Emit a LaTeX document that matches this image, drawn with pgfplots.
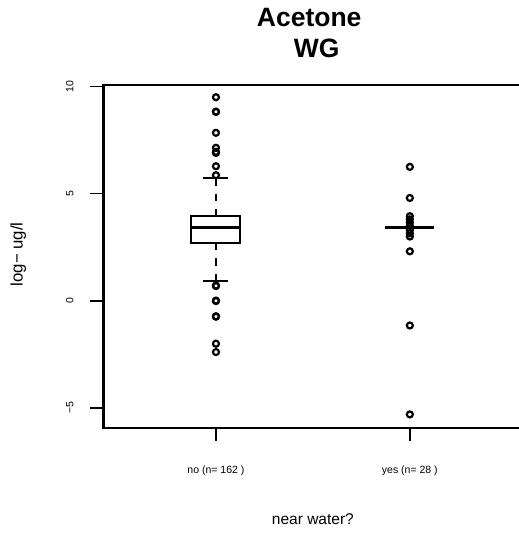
\documentclass[border=0pt]{standalone}
\usepackage{fontspec}
\setmainfont{Liberation Sans}
\usepackage{pgfplots}
\pgfplotsset{compat=1.18}
\begin{document}
\begin{tikzpicture}
\begin{axis}[
  name=ax,
  scale only axis, width=418.8bp, height=342.7bp,
  xmin=0.42, xmax=2.58, ymin=-5.92, ymax=10.07,
  axis line style={line width=2.2bp},
  tick align=outside, major tick length=13bp,
  tick style={line width=1.6bp, black},
  xtick pos=bottom, ytick pos=left,
  xtick={1,2}, xticklabels={no (n= 162 ), yes (n= 28 )},
  ytick={-5,0,5,10}, yticklabels={−5,0,5,10},
  /pgf/number format/assume math mode=true,
  ticklabel style={font=\fontsize{10.5bp}{12bp}\selectfont, inner sep=0pt},
  yticklabel style={rotate=90, anchor=south},
  yticklabel shift=16.7bp,
  xticklabel style={anchor=north},
  xticklabel shift=25bp,
  xlabel={near water?},
  xlabel style={at={(axis description cs:0.5,-0.2839)}, anchor=base, inner sep=0pt, font=\fontsize{15.5bp}{18bp}\selectfont},
  ylabel={log− ug/l},
  ylabel style={at={(axis description cs:-0.2034,0.506)}, anchor=center, inner sep=0pt, font=\fontsize{16.8bp}{19bp}\selectfont},
  title={Acetone\hspace*{0.28em}\\\hspace*{0.28em}WG},
  title style={at={(axis description cs:0.5,1)}, anchor=south, align=center, inner sep=0pt, yshift=21.5bp, font=\fontsize{26.5bp}{30.6bp}\selectfont\bfseries},
]
% group 1 box
\addplot[black, line width=2bp, line join=miter] coordinates {(0.8735,2.71) (1.1265,2.71) (1.1265,3.95) (0.8735,3.95)} --cycle;
\addplot[black, line width=2.4bp] coordinates {(0.8735,3.43) (1.1265,3.43)};
\addplot[black, line width=2bp, dash pattern=on 7.5bp off 8bp] coordinates {(1,5.73) (1,3.95)};
\addplot[black, line width=2bp, dash pattern=on 7.5bp off 8bp] coordinates {(1,0.92) (1,2.71)};
\addplot[black, line width=2bp] coordinates {(0.9355,5.73) (1.0645,5.73)};
\addplot[black, line width=2bp] coordinates {(0.9355,0.92) (1.0645,0.92)};
% group 2 collapsed box
\addplot[black, line width=2.4bp] coordinates {(1.8735,3.43) (2.1265,3.43)};
% outliers
\addplot[only marks, mark=o, mark size=3bp, mark options={line width=2.2bp, black}] coordinates {
(1,9.50) (1,8.82) (1,8.82) (1,7.84) (1,7.14) (1,6.95) (1,6.90) (1,6.28) (1,5.86)
(1,0.71) (1,0.69) (1,-0.01) (1,0.01) (1,-0.72) (1,-0.74) (1,-2.00) (1,-2.39)
};
\addplot[only marks, mark=o, mark size=3bp, mark options={line width=2.2bp, black}] coordinates {
(2,6.25) (2,4.80) (2,3.95) (2,3.80) (2,3.65) (2,3.50) (2,3.30) (2,3.15) (2,3.00)
(2,2.31) (2,-1.15) (2,-5.30)
};
\end{axis}
\pgfresetboundingbox
\useasboundingbox ([shift={(-103.5bp,-105.3bp)}]ax.south west) rectangle ++(519bp,533bp);
\end{tikzpicture}
\end{document}
